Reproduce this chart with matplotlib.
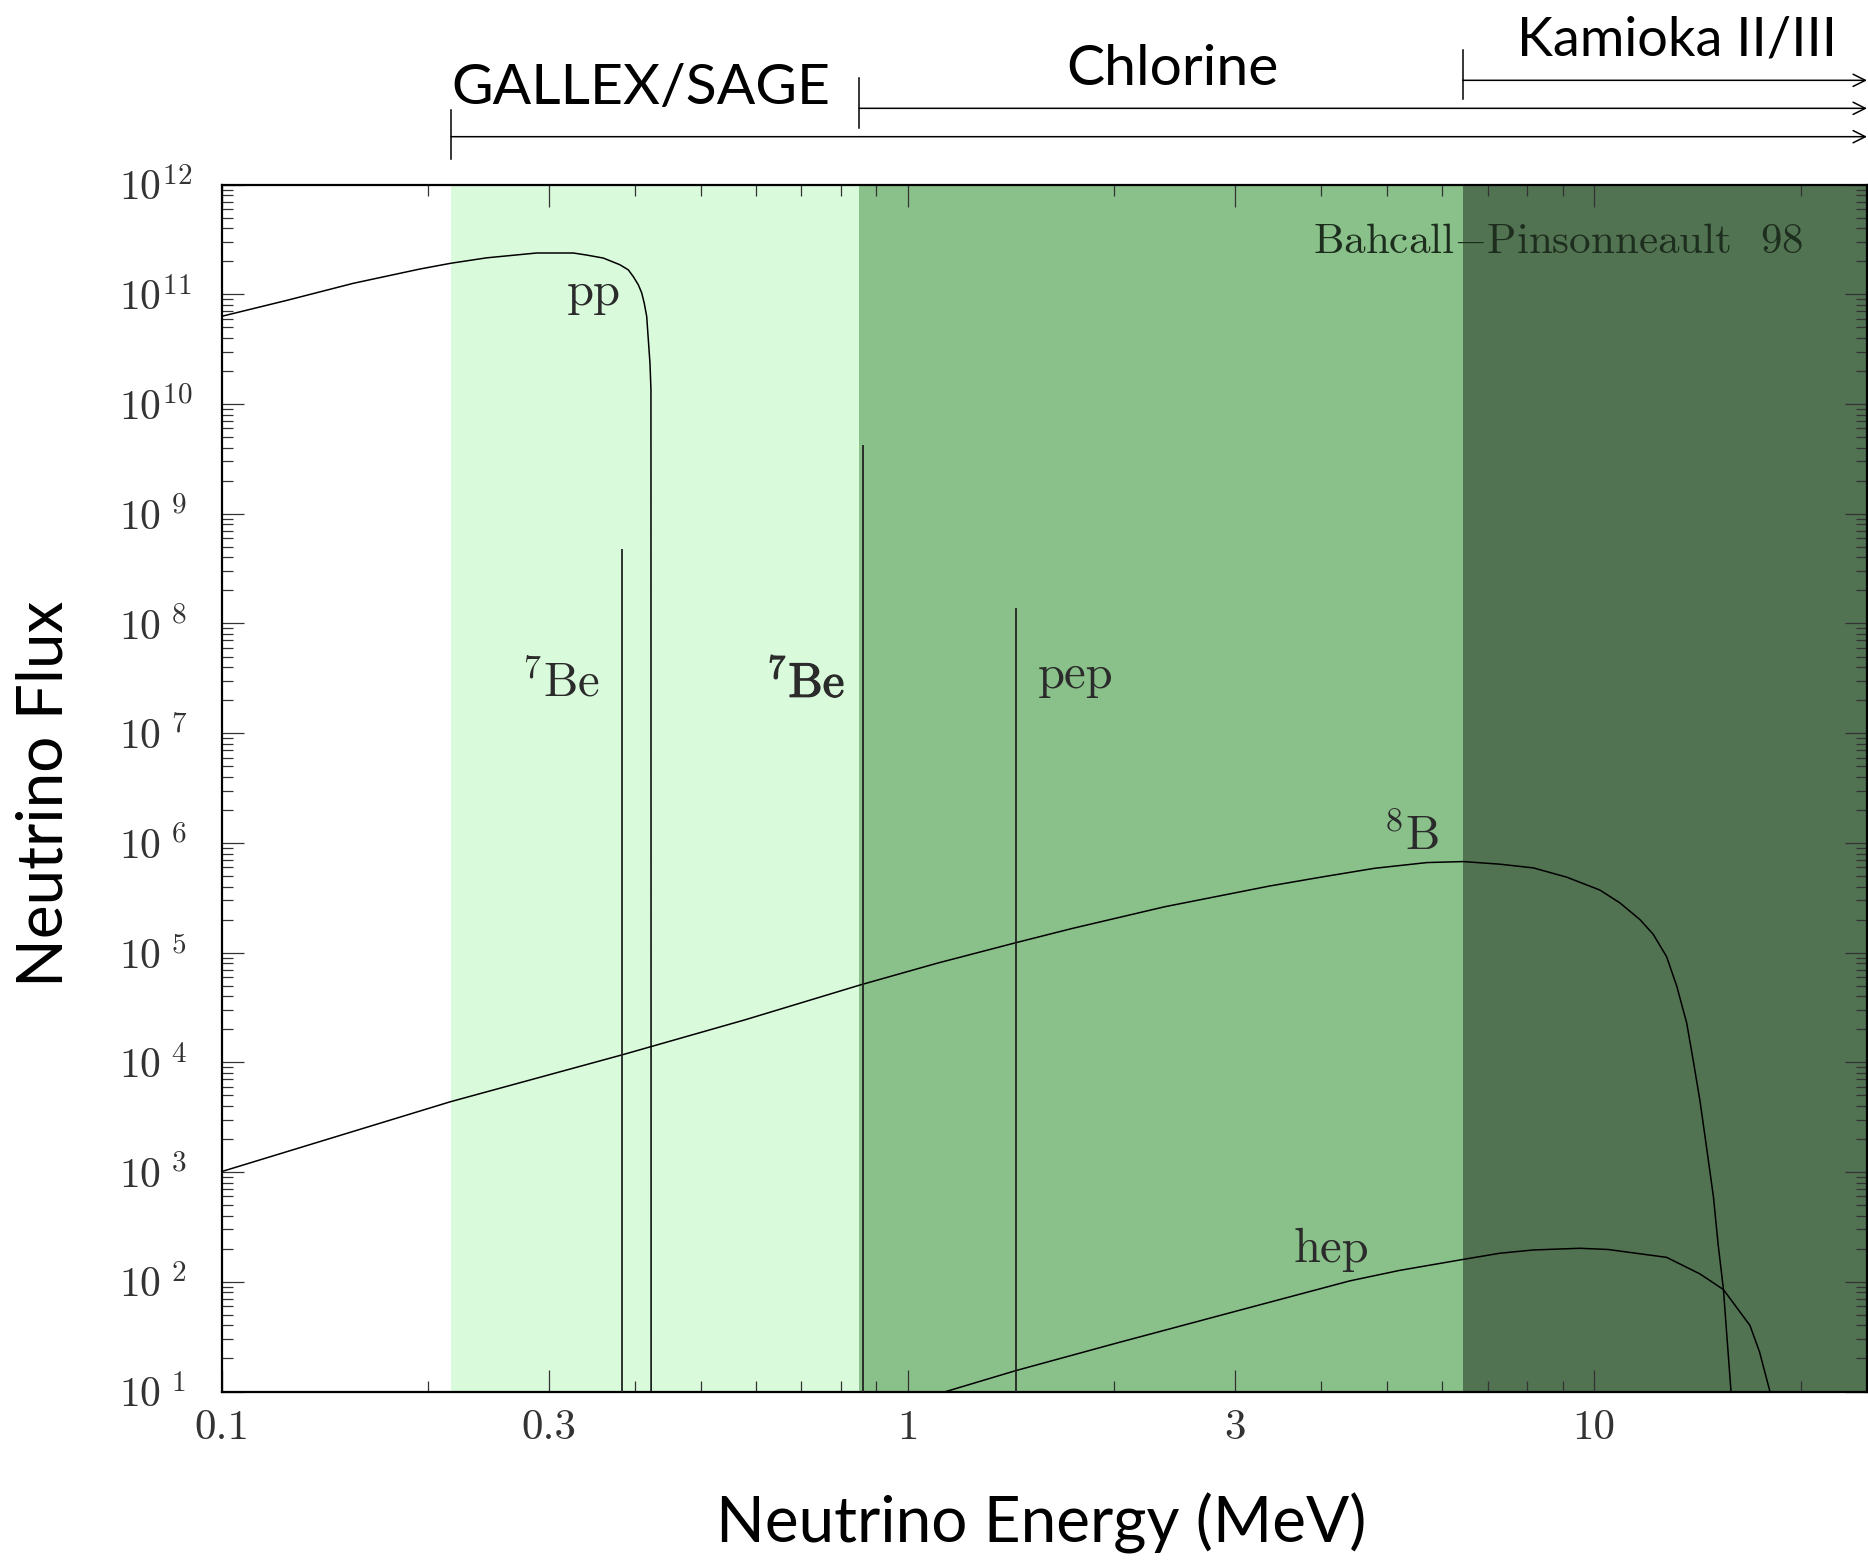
import matplotlib
matplotlib.use("Agg")
import matplotlib.pyplot as plt
import matplotlib.patheffects as pe
from matplotlib.ticker import FixedLocator, LogLocator, NullFormatter

plt.rcParams['mathtext.fontset'] = 'cm'

# --- data ---
# pp continuum
pp_E = [0.100, 0.1244, 0.1556, 0.1945, 0.2159, 0.2433, 0.2878, 0.3255, 0.3404,
        0.3600, 0.3806, 0.3915, 0.3981, 0.4049, 0.4095, 0.4130, 0.4164, 0.4210,
        0.4224, 0.4226]
pp_F = [6.3e10, 8.8e10, 1.26e11, 1.70e11, 1.92e11, 2.15e11, 2.38e11, 2.38e11, 2.28e11,
        2.14e11, 1.86e11, 1.67e11, 1.45e11, 1.22e11, 1.03e11, 8.3e10, 6.3e10, 2.36e10,
        1.35e10, 10]

# 8B continuum
b8_E = [0.100, 0.2159, 0.3834, 0.579, 0.853, 1.103, 1.436, 1.736, 2.369, 3.37, 4.02,
        4.79, 5.71, 6.45, 7.29, 8.16, 9.12, 10.2, 10.91, 11.67, 12.2, 12.76, 13.2,
        13.65, 13.95, 14.27, 14.6, 14.93, 15.17, 15.44, 15.84]
b8_F = [1.01e3, 4.39e3, 1.17e4, 2.44e4, 5.08e4, 8.0e4, 1.23e5, 1.66e5, 2.62e5, 4.05e5,
        4.90e5, 5.87e5, 6.62e5, 6.76e5, 6.40e5, 5.92e5, 4.88e5, 3.72e5, 2.84e5, 2.00e5,
        1.47e5, 9.2e4, 4.97e4, 2.29e4, 1.05e4, 4.50e3, 1.64e3, 600, 219, 86, 10]

# hep continuum
hep_E = [1.137, 1.437, 2.01, 2.98, 4.41, 5.21, 6.45, 7.29, 8.16, 9.54, 10.48, 12.76,
         14.27, 15.44, 16.88, 17.43, 18.05]
hep_F = [10, 15.5, 27.5, 53.1, 102, 127, 160, 182, 195, 202, 197, 167, 118, 85, 40,
         23, 10]

# line sources (7Be 0.38, 7Be 0.86, pep)
line_E = [0.383, 0.861, 1.438]
line_F = [4.8e8, 4.25e9, 1.39e8]

# detector thresholds (MeV) and shading colours
thresholds = [0.216, 0.849, 6.44]
shade_cols = ['#d9fbdb', '#8ac18a', '#527352']
det_names = ['GALLEX/SAGE', 'Chlorine', 'Kamioka II/III']

xmin, xmax = 0.1, 25
ymin, ymax = 10, 1e12

xtick_vals = [0.1, 0.3, 1, 3, 10]
xtick_labels = ['0.1', '0.3', '1', '3', '10']
ytick_vals = [10.0 ** k for k in range(1, 13)]
ytick_labels = [r'$10^{\ 1}$', r'$10^{\ 2}$', r'$10^{\ 3}$', r'$10^{\ 4}$', r'$10^{\ 5}$',
                r'$10^{\ 6}$', r'$10^{\ 7}$', r'$10^{\ 8}$', r'$10^{\ 9}$', r'$10^{10}$',
                r'$10^{11}$', r'$10^{12}$']

W, H = 1868, 1563
fig = plt.figure(figsize=(W / 100, H / 100), dpi=100)
ax = fig.add_axes([221.6 / W, 1 - 1391.5 / H, (1867 - 221.6) / W, 1206.9 / H])
ax.set_xscale('log')
ax.set_yscale('log')
ax.set_xlim(xmin, xmax)
ax.set_ylim(ymin, ymax)

# shaded detector ranges
edges = thresholds + [xmax]
for i in range(3):
    ax.axvspan(edges[i], edges[i + 1], color=shade_cols[i], lw=0, zorder=0)

# spectra
ax.plot(pp_E, pp_F, color='black', lw=1.1, zorder=3)
ax.plot(b8_E, b8_F, color='black', lw=1.1, zorder=3)
ax.plot(hep_E, hep_F, color='black', lw=1.1, zorder=3)
ax.vlines(line_E, ymin, line_F, color='#222222', lw=1.3, zorder=3)

# labels on the curves
tcol = '#2b2b2b'
tfont = dict(family='cmr10', fontsize=35, color=tcol, va='baseline', ha='center')
ax.text(0.349, 8.0e10, 'pp', **tfont)
ax.text(0.312, 2.14e7, r'$^7$Be', **tfont)
ax.text(0.7096, 2.14e7, r'$^7$Be',
        path_effects=[pe.withStroke(linewidth=0.9, foreground=tcol)], **tfont)
ax.text(1.758, 2.56e7, 'pep', **tfont)
ax.text(5.42, 8.6e5, r'$^8$B', **tfont)
ax.text(4.14, 151, 'hep', **tfont)
ax.text(8.87, 2.39e11, r'Bahcall$-$Pinsonneault  98', family='cmr10', fontsize=31,
        color='#1e2e1e', va='baseline', ha='center')

# axes styling
for s in ax.spines.values():
    s.set_linewidth(1.6)
ax.xaxis.set_major_locator(FixedLocator(xtick_vals))
ax.set_xticklabels(xtick_labels)
ax.xaxis.set_minor_locator(LogLocator(base=10, subs=[1, 2, 3, 4, 5, 6, 7, 8, 9], numticks=20))
ax.xaxis.set_minor_formatter(NullFormatter())
ax.yaxis.set_major_locator(FixedLocator(ytick_vals))
ax.set_yticklabels(ytick_labels)
ax.yaxis.set_minor_locator(LogLocator(base=10, subs=[2, 3, 4, 5, 6, 7, 8, 9], numticks=20))
ax.yaxis.set_minor_formatter(NullFormatter())
ax.tick_params(which='both', direction='in', top=True, right=True, width=0.9, color='#333333')
ax.tick_params(which='major', length=15.8)
ax.tick_params(which='minor', length=7.7)
ax.tick_params(axis='x', which='major', labelsize=31, pad=13, labelcolor='#333333')
ax.tick_params(axis='y', which='major', labelsize=30, pad=74, labelcolor='#333333')
for lbl in ax.get_xticklabels() + ax.get_yticklabels():
    lbl.set_family('cmr10')
for lbl in ax.get_yticklabels():
    lbl.set_ha('left')

# detector range arrows above the plot
tr = ax.get_xaxis_transform()
arrow_y = [1.0397, 1.0632, 1.0864]
bar_y = [(1.0208, 1.0622), (1.0469, 1.0883), (1.0708, 1.1115)]
for i in range(3):
    ax.annotate('', xy=(xmax, arrow_y[i]), xytext=(thresholds[i], arrow_y[i]),
                xycoords=tr, textcoords=tr, annotation_clip=False,
                arrowprops=dict(arrowstyle='->', lw=1.1, color='black',
                                shrinkA=0, shrinkB=0, mutation_scale=22))
    ax.plot([thresholds[i], thresholds[i]], bar_y[i], transform=tr, color='black',
            lw=1.1, clip_on=False)

big = dict(family='Lato', color='black', ha='center', va='baseline')
fig.text(641 / W, 1 - 104 / H, det_names[0], fontsize=41, **big)
fig.text(1172 / W, 1 - 85 / H, det_names[1], fontsize=41, **big)
fig.text(1677 / W, 1 - 56 / H, det_names[2], fontsize=39, **big)

fig.text(1041 / W, 1 - 1543 / H, 'Neutrino Energy (MeV)', family='Lato', fontsize=46,
         ha='center', va='baseline')
fig.text(45 / W, 1 - 794 / H, 'Neutrino Flux', family='Lato', fontsize=46,
         rotation=90, ha='center', va='center')

fig.savefig('out.png', dpi=100)
